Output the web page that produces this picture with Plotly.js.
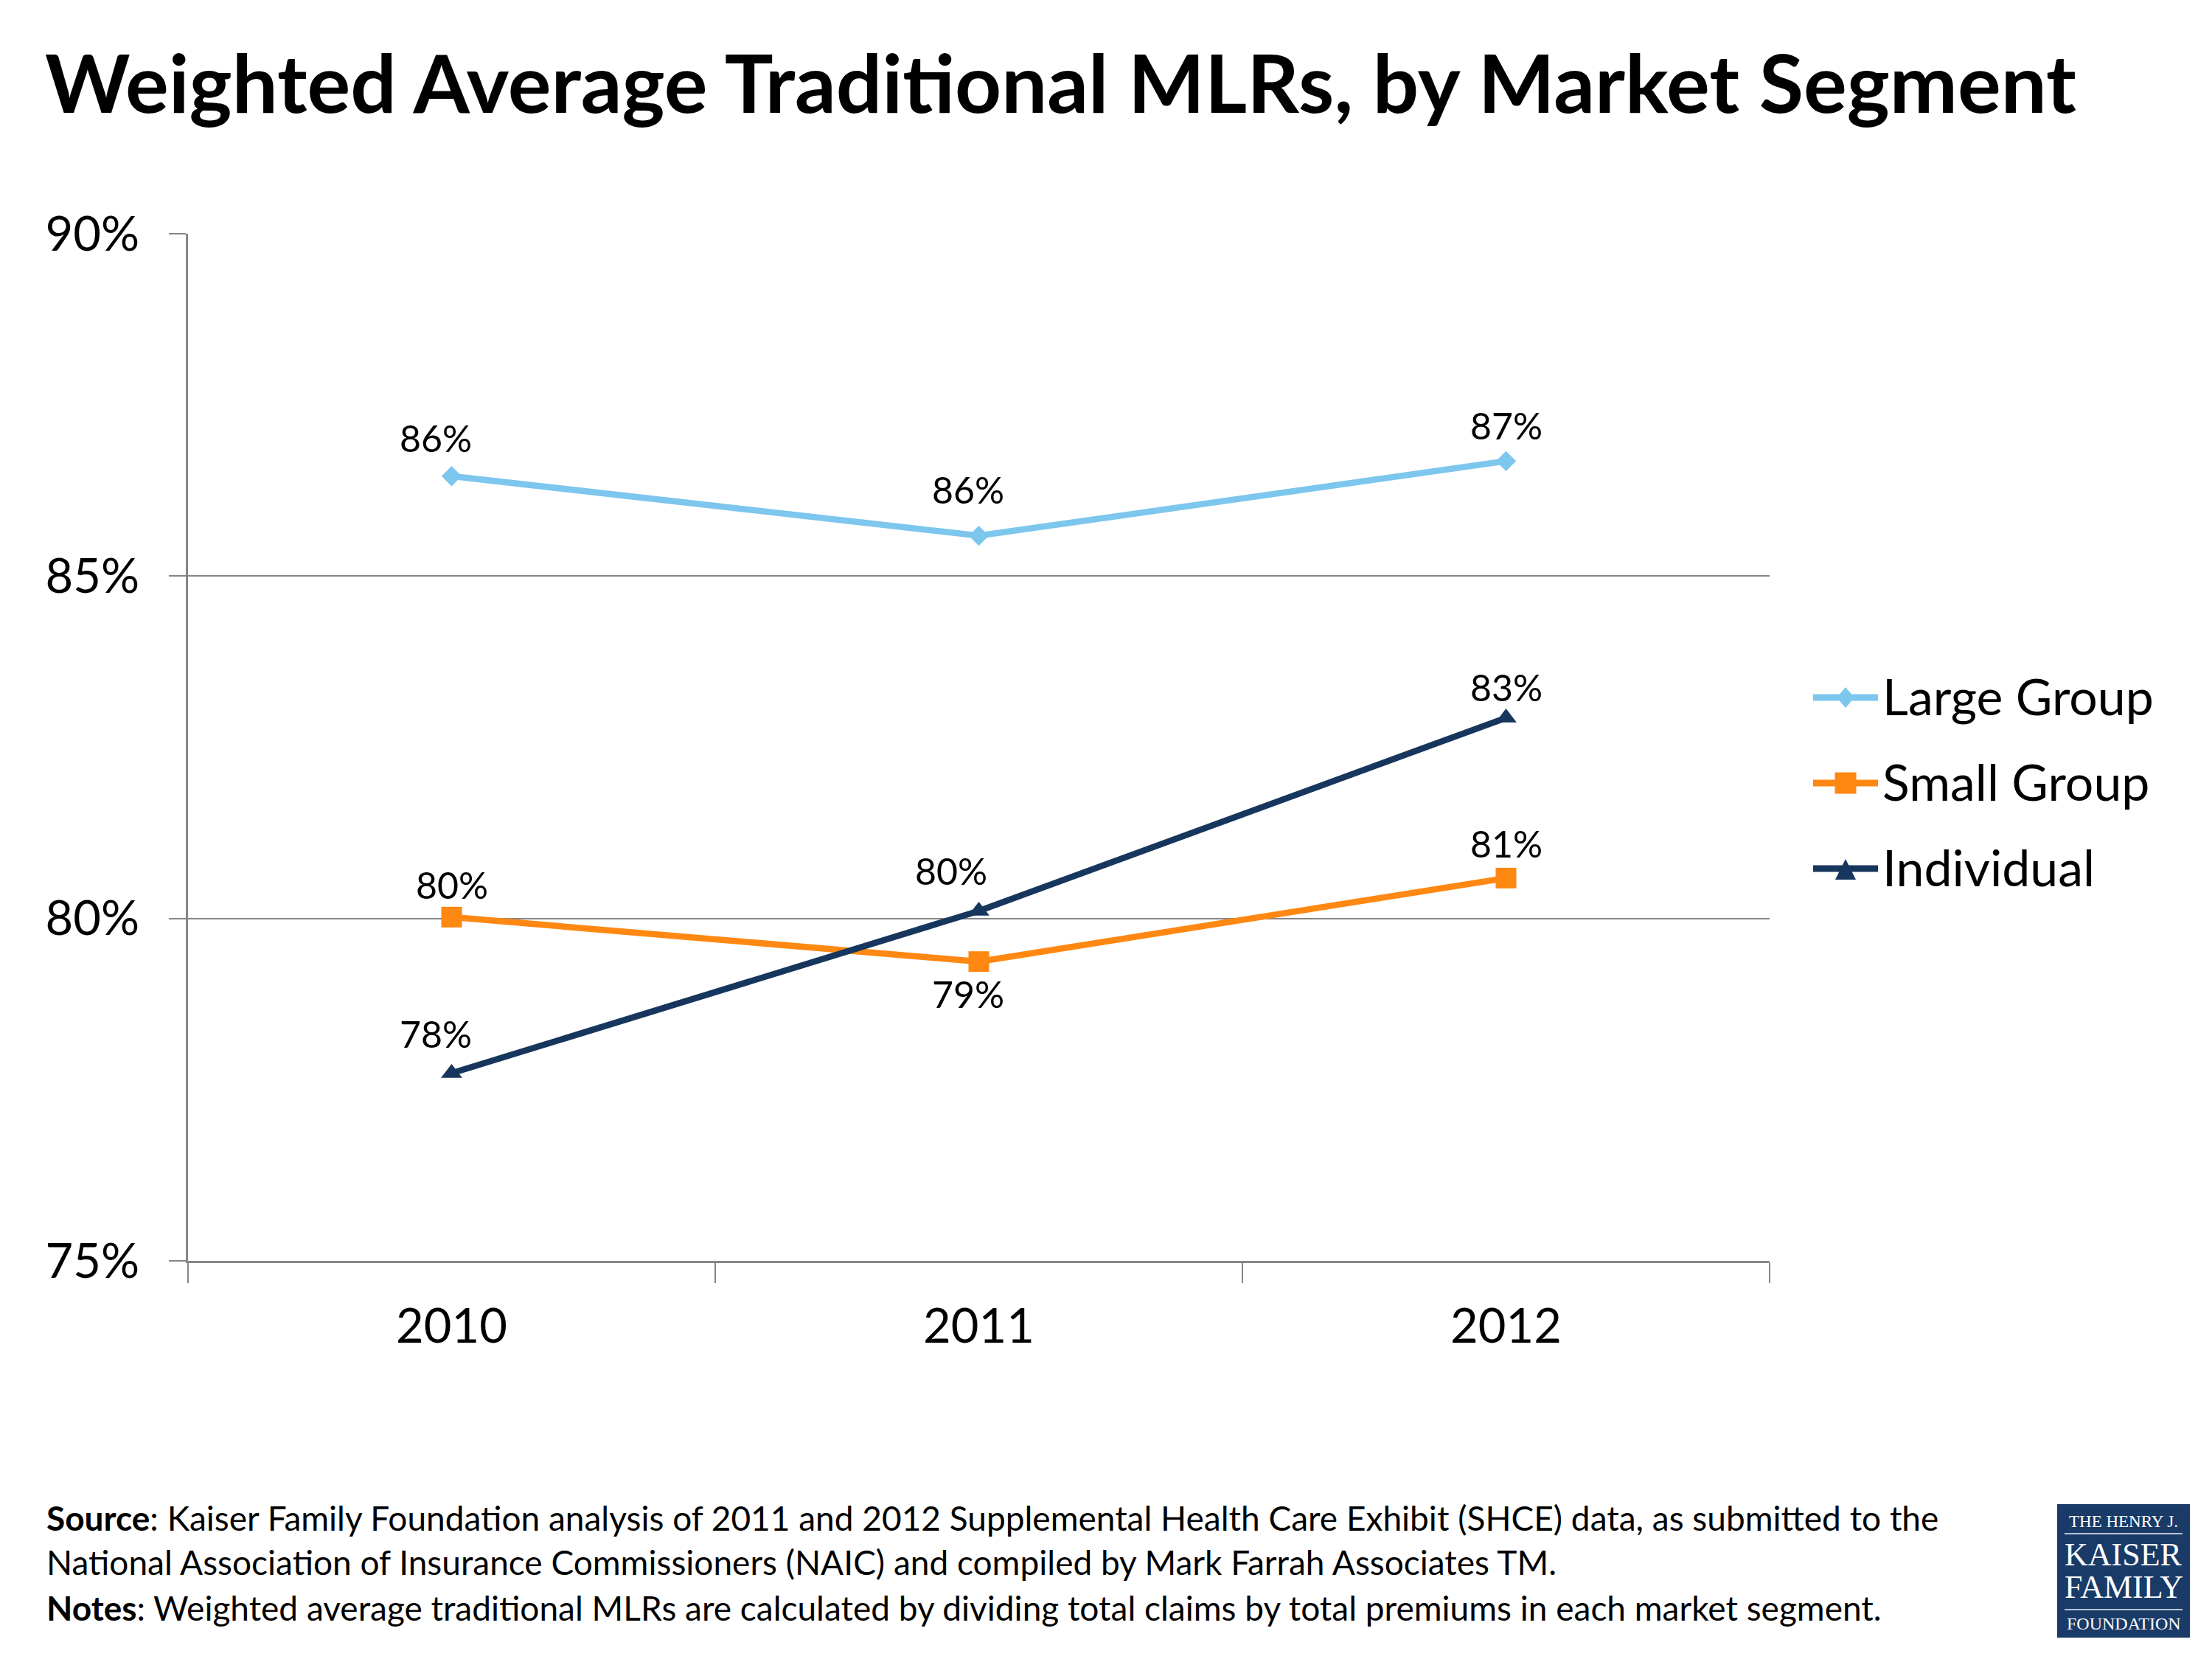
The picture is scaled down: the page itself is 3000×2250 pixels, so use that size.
<!DOCTYPE html>
<html><head><meta charset="utf-8">
<script src="https://cdn.plot.ly/plotly-3.0.1.min.js"></script>
<style>html,body{margin:0;padding:0;background:#fff}</style>
</head><body><div id="chart" style="width:3000px;height:2250px"></div>
<script>
// ---- data ----
const years = ['2010', '2011', '2012'];
const seriesNames = ['Large Group', 'Small Group', 'Individual'];
const largeGroup = [86.46, 85.59, 86.68];
const smallGroup = [80.02, 79.37, 80.59];
const individual = [77.74, 80.11, 82.93];
const yTickVals = [75, 80, 85, 90];
const yTickText = ['75%', '80%', '85%', '90%'];
const titleText = 'Weighted Average Traditional MLRs, by Market Segment';
const noteLines = [
  '<b>Source</b>: Kaiser Family Foundation analysis of 2011 and 2012 Supplemental Health Care Exhibit (SHCE) data, as submitted to the',
  'National Association of Insurance Commissioners (NAIC) and compiled by Mark Farrah Associates TM.',
  '<b>Notes</b>: Weighted average traditional MLRs are calculated by dividing total claims by total premiums in each market segment.'
];
const logoLines = ['THE HENRY J.', 'KAISER', 'FAMILY', 'FOUNDATION'];

// ---- styles ----
const W = 3000, H = 2250;
const M = {l: 255, r: 600, t: 317, b: 540};
const PW = W - M.l - M.r, PH = H - M.t - M.b;
const px = x => (x - M.l) / PW;
const py = y => (H - M.b - y) / PH;
const FONT = 'Lato, "Open Sans", sans-serif';
const GRID = '#868686';
const colors = ['#7DC6EE', '#FF8812', '#17365D'];
const symbols = ['diamond', 'square', 'triangle-up'];
const msizes = [21, 28, 25];
const LINE_W = 8.5;
const seriesVals = [largeGroup, smallGroup, individual];
// label offsets [xshift, yshift] per series per point
const labelShift = [
  [[-22, 52], [-15, 63], [0, 48]],
  [[0, 44], [-15, -44], [0, 47]],
  [[-22, 54], [-38, 54], [0, 42]]
];

const traces = seriesVals.map((vals, i) => ({
  type: 'scatter', mode: 'lines+markers',
  x: years, y: vals, name: seriesNames[i], showlegend: false,
  line: {color: colors[i], width: LINE_W},
  marker: {symbol: symbols[i], size: msizes[i], color: colors[i]},
  hoverinfo: 'skip'
}));

const annotations = [];
seriesVals.forEach((vals, i) => vals.forEach((v, j) => {
  annotations.push({
    x: j, y: v, xref: 'x', yref: 'y', showarrow: false,
    text: Math.round(v) + '%', xanchor: 'center', yanchor: 'middle',
    xshift: labelShift[i][j][0], yshift: labelShift[i][j][1],
    font: {family: FONT, size: 50, color: '#000'}
  });
}));

const noteY = [2058, 2118, 2180];
noteLines.forEach((t, k) => annotations.push({
  xref: 'paper', yref: 'paper', x: px(61), y: py(noteY[k]), xanchor: 'left', yanchor: 'middle',
  showarrow: false, text: t, font: {family: FONT, size: 46, color: '#000'}
}));

// legend (drawn manually so the sample lines match the reference length)
const legRowY = [946, 1062, 1178];
const legX0 = 2459, legX1 = 2547, legXc = 2503, legText = 2551;
const shapes = [];
seriesNames.forEach((n, i) => {
  const yc = legRowY[i];
  shapes.push({type: 'line', xref: 'paper', yref: 'paper', x0: px(legX0), x1: px(legX1), y0: py(yc), y1: py(yc),
               line: {color: colors[i], width: 9}, layer: 'above'});
  let path;
  if (symbols[i] === 'diamond') {
    path = `M ${px(legXc)} ${py(yc - 14)} L ${px(legXc + 12)} ${py(yc)} L ${px(legXc)} ${py(yc + 14)} L ${px(legXc - 12)} ${py(yc)} Z`;
  } else if (symbols[i] === 'square') {
    const r = 14.5;
    path = `M ${px(legXc - r)} ${py(yc - r)} L ${px(legXc + r)} ${py(yc - r)} L ${px(legXc + r)} ${py(yc + r)} L ${px(legXc - r)} ${py(yc + r)} Z`;
  } else {
    path = `M ${px(legXc)} ${py(yc - 13)} L ${px(legXc + 14)} ${py(yc + 15)} L ${px(legXc - 14)} ${py(yc + 15)} Z`;
  }
  shapes.push({type: 'path', xref: 'paper', yref: 'paper', path: path,
               fillcolor: colors[i], line: {width: 0}, layer: 'above'});
  annotations.push({xref: 'paper', yref: 'paper', x: px(legText), y: py(yc - 3), xanchor: 'left', yanchor: 'middle',
                    showarrow: false, text: n, font: {family: FONT, size: 68, color: '#000'}});
});

// logo
const logoY = [2063, 2108, 2152, 2202];
const logoSize = [23, 44, 44, 24];
logoLines.forEach((t, k) => annotations.push({
  xref: 'paper', yref: 'paper', x: px(2880), y: py(logoY[k]), xanchor: 'center', yanchor: 'middle',
  showarrow: false, text: t, font: {family: '"Liberation Serif", serif', size: logoSize[k], color: '#fff'}
}));
shapes.push(
  {type: 'rect', xref: 'paper', yref: 'paper', x0: px(2790), x1: px(2970), y0: py(2040), y1: py(2221),
   fillcolor: '#1A3B68', line: {width: 0}, layer: 'below'},
  {type: 'line', xref: 'paper', yref: 'paper', x0: px(2800), x1: px(2960), y0: py(2080), y1: py(2080),
   line: {color: '#B7C3D6', width: 2}, layer: 'above'},
  {type: 'line', xref: 'paper', yref: 'paper', x0: px(2800), x1: px(2960), y0: py(2183), y1: py(2183),
   line: {color: '#B7C3D6', width: 2}, layer: 'above'}
);

const layout = {
  width: W, height: H, margin: M,
  paper_bgcolor: '#fff', plot_bgcolor: 'rgba(0,0,0,0)',
  font: {family: FONT, color: '#000'},
  title: {text: '<b>' + titleText + '</b>', xref: 'container', yref: 'container',
          x: 61 / W, xanchor: 'left', y: 1 - 114 / H, yanchor: 'middle',
          font: {family: FONT, size: 110, color: '#000'}},
  xaxis: {type: 'category', range: [-0.5, 2.5], tickson: 'boundaries',
          ticks: 'outside', ticklen: 27, tickwidth: 2, tickcolor: GRID,
          showline: true, linecolor: GRID, linewidth: 3, showgrid: false, zeroline: false,
          tickfont: {family: FONT, size: 65, color: '#000'}, ticklabelstandoff: 30, fixedrange: true},
  yaxis: {range: [75, 90], tickvals: yTickVals, ticktext: yTickText,
          ticks: 'outside', ticklen: 23, tickwidth: 2, tickcolor: GRID,
          showline: true, linecolor: GRID, linewidth: 3,
          showgrid: true, gridcolor: GRID, gridwidth: 2, zeroline: false,
          tickfont: {family: FONT, size: 65, color: '#000'}, ticklabelstandoff: 27, fixedrange: true},
  showlegend: false,
  annotations: annotations,
  shapes: shapes
};

Plotly.newPlot('chart', traces, layout, {displayModeBar: false, staticPlot: true});
</script>
</body></html>
